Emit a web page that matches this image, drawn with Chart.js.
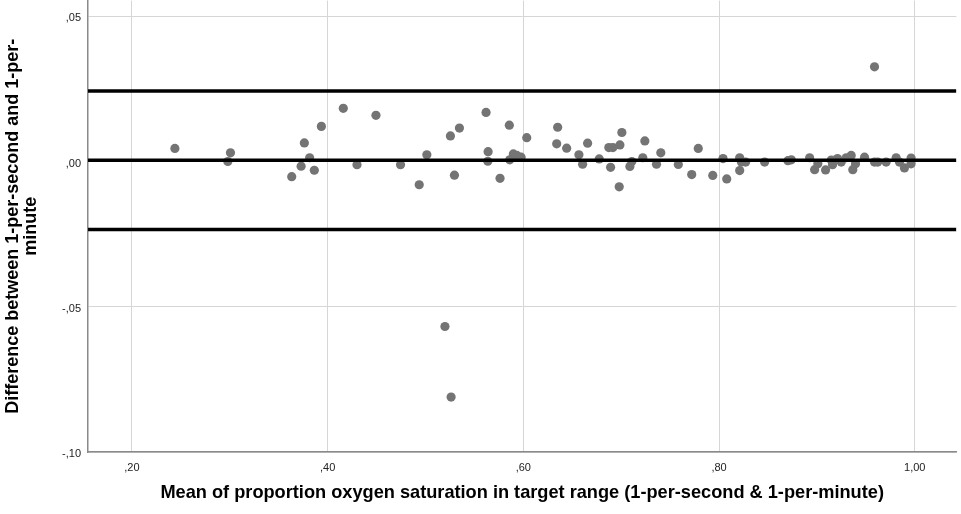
<!DOCTYPE html>
<html>
<head>
<meta charset="utf-8">
<script src="https://cdn.jsdelivr.net/npm/chart.js@4/dist/chart.umd.min.js"></script>
<style>
  html, body { margin:0; padding:0; background:#fff; }
  #wrap { width:961px; height:514px; position:relative; overflow:hidden; }
  /* chart.js keeps a small gap above the plot for the top tick label; the plot here starts at the very top */
  #inner { position:absolute; left:0; top:-13px; width:961px; height:527px; }
</style>
</head>
<body>
<div id="wrap"><div id="inner"><canvas id="baChart"></canvas></div></div>
<script>
// Bland-Altman data: mean of the two methods vs their difference
const meanVals = [
  0.2439,0.3007,0.2980,0.3762,0.3936,0.4160,0.3816,0.3729,0.3864,0.3633,
  0.4300,0.4494,0.4745,0.5014,0.4936,0.5255,0.5347,0.5296,0.5619,0.5640,
  0.5637,0.5857,0.5762,0.5861,0.5898,0.5933,0.5977,0.6035,0.6351,0.6341,
  0.6443,0.6568,0.6606,0.6657,0.6776,0.6874,0.6915,0.6892,0.6987,0.7007,
  0.6980,0.7089,0.7109,0.7221,0.7242,0.7361,0.7405,0.7584,0.7721,0.7788,
  0.7936,0.8041,0.8079,0.8211,0.8229,0.8272,0.8211,0.8466,0.8704,0.8739,
  0.8926,0.8977,0.9010,0.9089,0.9147,0.9160,0.9211,0.9249,0.9300,0.9351,
  0.9367,0.9395,0.9487,0.9589,0.9589,0.9622,0.9708,0.9810,0.9844,0.9895,
  0.9963,0.9963,0.5199,0.5262
];
const diffVals = [
  0.0045,0.0030,0.0000,0.0064,0.0121,0.0183,0.0013,-0.0016,-0.0030,-0.0052,
  -0.0011,0.0159,-0.0011,0.0023,-0.0080,0.0088,0.0115,-0.0047,0.0169,0.0034,
  0.0001,0.0125,-0.0058,0.0006,0.0026,0.0021,0.0015,0.0082,0.0118,0.0061,
  0.0046,0.0023,-0.0009,0.0063,0.0009,0.0048,0.0048,-0.0020,0.0057,0.0100,
  -0.0087,-0.0017,0.0000,0.0013,0.0071,-0.0009,0.0030,-0.0010,-0.0045,0.0045,
  -0.0048,0.0010,-0.0060,0.0013,-0.0002,-0.0002,-0.0031,-0.0002,0.0003,0.0006,
  0.0013,-0.0028,-0.0008,-0.0029,0.0005,-0.0011,0.0010,-0.0002,0.0013,0.0021,
  -0.0028,-0.0008,0.0015,0.0326,-0.0002,-0.0002,-0.0002,0.0013,-0.0002,-0.0022,
  0.0012,-0.0008,-0.0568,-0.0811
];
const meanDiff = 0.0004;
const upperLoA = 0.0243;
const lowerLoA = -0.0234;

const xTickVals = [0.2,0.4,0.6,0.8,1.0];
const xTickLabels = [',20',',40',',60',',80','1,00'];
const yTickVals = [0.05,0,-0.05,-0.1];
const yTickLabels = [',05',',00','-,05','-,10'];

const X_MIN = 0.1551, X_MAX = 1.0426;
const Y_MIN = -0.10, Y_MAX = 0.0554;

const points = meanVals.map((m,i)=>({x:m,y:diffVals[i]}));
const hLine = v => [{x:X_MIN,y:v},{x:X_MAX,y:v}];

const lineStyle = {type:'line',borderColor:'#000',borderWidth:3.5,pointRadius:0,fill:false,order:0};

new Chart(document.getElementById('baChart'),{
  type:'scatter',
  data:{datasets:[
    {data:points,backgroundColor:'#747474',borderWidth:0,pointRadius:4.6,order:1},
    Object.assign({data:hLine(upperLoA)},lineStyle),
    Object.assign({data:hLine(meanDiff)},lineStyle),
    Object.assign({data:hLine(lowerLoA)},lineStyle)
  ]},
  options:{
    responsive:true,maintainAspectRatio:false,animation:false,
    layout:{padding:{top:0,right:4,bottom:0,left:0}},
    plugins:{legend:{display:false},tooltip:{enabled:false}},
    scales:{
      x:{
        type:'linear',min:X_MIN,max:X_MAX,
        afterBuildTicks:s=>{s.ticks=xTickVals.map(v=>({value:v}));},
        afterFit:s=>{s.height=62;},
        grid:{color:'#d6d6d6',drawTicks:false},
        border:{color:'#8a8a8a',width:1.5},
        ticks:{padding:9,color:'#222',font:{family:'Liberation Sans',size:11},
          callback:v=>xTickLabels[xTickVals.findIndex(t=>Math.abs(t-v)<1e-9)]},
        title:{display:true,text:'Mean of proportion oxygen saturation in target range (1-per-second & 1-per-minute)',
          color:'#000',font:{family:'Liberation Sans',size:18.2,weight:'bold',lineHeight:1.2},padding:{top:0,bottom:10}}
      },
      y:{
        type:'linear',min:Y_MIN,max:Y_MAX,
        afterBuildTicks:s=>{s.ticks=yTickVals.map(v=>({value:v}));},
        afterFit:s=>{s.width=88;},
        grid:{color:'#d6d6d6',drawTicks:false},
        border:{color:'#8a8a8a',width:1.5},
        ticks:{padding:7,labelOffset:2,color:'#222',font:{family:'Liberation Sans',size:11},
          callback:v=>yTickLabels[yTickVals.findIndex(t=>Math.abs(t-v)<1e-9)]},
        title:{display:true,text:['Difference between 1-per-second and 1-per-','minute'],
          color:'#000',font:{family:'Liberation Sans',size:18,weight:'bold',lineHeight:1.0},padding:{top:4,bottom:0}}
      }
    }
  }
});
</script>
</body>
</html>
